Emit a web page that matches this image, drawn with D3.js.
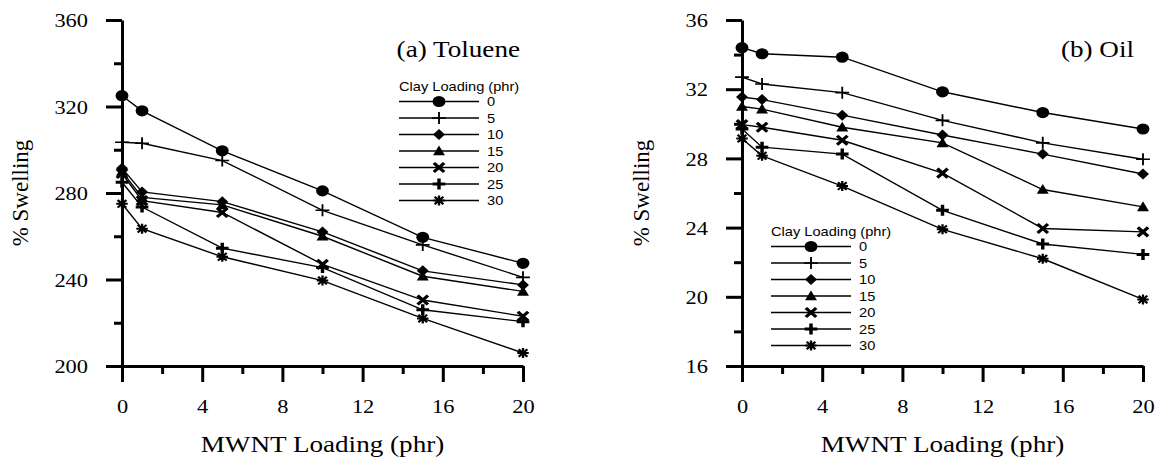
<!DOCTYPE html>
<html>
<head>
<meta charset="utf-8">
<script src="https://cdn.jsdelivr.net/npm/d3@7"></script>
<style>
  html, body { margin: 0; padding: 0; background: #fff; }
  svg { display: block; }
  .serif { font-family: "Liberation Serif", "Times New Roman", serif; fill: #000; }
  .sans { font-family: "Liberation Sans", Arial, sans-serif; fill: #000; }
</style>
</head>
<body>
<svg id="chart" width="1157" height="458"></svg>
<script>
// MWNT loading (phr) on the x axis
const mwntLoading = [0, 1, 5, 10, 15, 20];
// Clay loading (phr) for each series
const clayLoading = [0, 5, 10, 15, 20, 25, 30];

// % swelling in toluene, one row per clay loading
const tolueneSwelling = [
  [325, 318, 299.5, 281, 259.5, 247.5],
  [303.5, 303, 295, 272, 256, 241],
  [291.5, 280.5, 276, 262, 244, 237.5],
  [290, 278, 274.5, 260, 241.5, 234.5],
  [289, 276.5, 271, 247, 230.5, 223],
  [285, 273.5, 254.5, 245.5, 226, 220.5],
  [275, 263.5, 250.5, 239.5, 222, 206]
];

// % swelling in oil, one row per clay loading
const oilSwelling = [
  [34.4, 34.05, 33.85, 31.85, 30.65, 29.7],
  [32.7, 32.3, 31.8, 30.2, 28.9, 27.95],
  [31.55, 31.4, 30.5, 29.35, 28.25, 27.1],
  [31.0, 30.85, 29.8, 28.9, 26.2, 25.2],
  [29.95, 29.8, 29.05, 27.15, 23.95, 23.75],
  [29.7, 28.65, 28.25, 25.0, 23.05, 22.45],
  [29.15, 28.15, 26.4, 23.9, 22.2, 19.85]
];

// Tick labels
const xTicks = [0, 4, 8, 12, 16, 20];
const xMinorTicks = [2, 6, 10, 14, 18];
const tolueneTicks = [200, 240, 280, 320, 360];
const tolueneMinorTicks = [220, 260, 300, 340];
const oilTicks = [16, 20, 24, 28, 32, 36];
const oilMinorTicks = [18, 22, 26, 30, 34];

const panelTitles = ["(a) Toluene", "(b) Oil"];
const xTitle = "MWNT Loading (phr)";
const yTitle = "% Swelling";
const legendTitle = "Clay Loading (phr)";

// ---- drawing ----
const SX = 1.15;                 // horizontal glyph stretch
const markerKinds = ["circle", "plus", "diamond", "triangle", "cross", "boldplus", "asterisk"];

const svg = d3.select("#chart");

function drawMarker(parent, kind, cx, cy) {
  const g = parent.append("g").attr("transform", `translate(${cx},${cy}) scale(${SX},1)`);
  switch (kind) {
    case "circle":
      g.append("circle").attr("r", 5.6).attr("fill", "#000");
      break;
    case "plus":
      g.append("path").attr("d", "M-6,0H6M0,-6V6").attr("stroke", "#000").attr("stroke-width", 1.6).attr("fill", "none");
      break;
    case "diamond":
      g.append("path").attr("d", "M0,-5.5L5.2,0L0,5.5L-5.2,0Z").attr("fill", "#000");
      break;
    case "triangle":
      g.append("path").attr("d", "M0,-5.5L5.2,4.3L-5.2,4.3Z").attr("fill", "#000");
      break;
    case "cross":
      g.append("path").attr("d", "M-4.5,-4.5L4.5,4.5M-4.5,4.5L4.5,-4.5").attr("stroke", "#000").attr("stroke-width", 3).attr("fill", "none");
      break;
    case "boldplus":
      g.append("path").attr("d", "M-5.5,0H5.5M0,-5.5V5.5").attr("stroke", "#000").attr("stroke-width", 3).attr("fill", "none");
      break;
    case "asterisk":
      g.append("path").attr("d", "M-5,0H5M0,-5V5M-3.8,-3.8L3.8,3.8M-3.8,3.8L3.8,-3.8").attr("stroke", "#000").attr("stroke-width", 2).attr("fill", "none");
      break;
  }
}

const panels = [
  { values: tolueneSwelling, domain: [200, 360], ticks: tolueneTicks, minor: tolueneMinorTicks,
    left: 122, right: 523, title: panelTitles[0], titleRight: 520,
    legendX: 399, legendY: 91, yTitleX: 28 },
  { values: oilSwelling, domain: [16, 36], ticks: oilTicks, minor: oilMinorTicks,
    left: 742, right: 1143, title: panelTitles[1], titleRight: 1134,
    legendX: 771, legendY: 236, yTitleX: 649 }
];

const plotTop = 20, plotBottom = 366;

panels.forEach(p => {
  const x = d3.scaleLinear().domain([0, 20]).range([p.left, p.right]);
  const y = d3.scaleLinear().domain(p.domain).range([plotBottom, plotTop]);

  // minor ticks
  svg.append("g").attr("transform", `translate(${p.left},0)`)
    .call(d3.axisLeft(y).tickValues(p.minor).tickSize(8).tickSizeOuter(0).tickFormat(""))
    .call(g => g.select(".domain").remove())
    .call(g => g.selectAll("line").attr("stroke", "#000").attr("stroke-width", 3));
  svg.append("g").attr("transform", `translate(0,${plotBottom})`)
    .call(d3.axisBottom(x).tickValues(xMinorTicks).tickSize(8).tickSizeOuter(0).tickFormat(""))
    .call(g => g.select(".domain").remove())
    .call(g => g.selectAll("line").attr("stroke", "#000").attr("stroke-width", 3));

  // major y axis
  svg.append("g").attr("transform", `translate(${p.left},0)`)
    .call(d3.axisLeft(y).tickValues(p.ticks).tickSize(16).tickSizeOuter(0))
    .call(g => g.select(".domain").attr("stroke", "#000").attr("stroke-width", 3))
    .call(g => g.selectAll("line").attr("stroke", "#000").attr("stroke-width", 3))
    .call(g => g.selectAll("text")
      .attr("class", "serif")
      .attr("font-size", 19.5)
      .attr("x", 0)
      .attr("dy", "0.34em")
      .attr("transform", `translate(-34,0) scale(${SX},1)`));

  // major x axis
  svg.append("g").attr("transform", `translate(0,${plotBottom})`)
    .call(d3.axisBottom(x).tickValues(xTicks).tickSize(16).tickSizeOuter(0))
    .call(g => g.select(".domain").attr("stroke", "#000").attr("stroke-width", 3))
    .call(g => g.selectAll("line").attr("stroke", "#000").attr("stroke-width", 3))
    .call(g => g.selectAll("text")
      .attr("class", "serif")
      .attr("font-size", 19.5)
      .attr("y", 0).attr("dy", 0)
      .attr("transform", `translate(0,47) scale(${SX},1)`));

  // series
  const line = d3.line().x((d, i) => x(mwntLoading[i])).y(d => y(d));
  p.values.forEach(row => {
    svg.append("path").datum(row)
      .attr("d", line)
      .attr("fill", "none")
      .attr("stroke", "#000")
      .attr("stroke-width", 1.4);
  });
  p.values.forEach((row, si) => {
    row.forEach((v, i) => drawMarker(svg, markerKinds[si], x(mwntLoading[i]), y(v)));
  });

  // panel title
  svg.append("text").attr("class", "serif")
    .attr("font-size", 23)
    .attr("text-anchor", "end")
    .attr("transform", `translate(${p.titleRight},57) scale(1.18,1)`)
    .text(p.title);

  // axis titles
  svg.append("text").attr("class", "serif")
    .attr("font-size", 23)
    .attr("text-anchor", "middle")
    .attr("transform", `translate(${(p.left + p.right) / 2},452) scale(1.18,1)`)
    .text(xTitle);
  svg.append("text").attr("class", "serif")
    .attr("font-size", 23)
    .attr("text-anchor", "middle")
    .attr("transform", `translate(${p.yTitleX},${(plotTop + plotBottom) / 2}) rotate(-90)`)
    .text(yTitle);

  // legend
  const lg = svg.append("g");
  lg.append("text").attr("class", "sans")
    .attr("font-size", 12.5)
    .attr("transform", `translate(${p.legendX},${p.legendY}) scale(1.17,1)`)
    .text(legendTitle);
  clayLoading.forEach((c, i) => {
    const ry = p.legendY + 10.5 + i * 16.5;
    lg.append("line")
      .attr("x1", p.legendX).attr("x2", p.legendX + 80)
      .attr("y1", ry).attr("y2", ry)
      .attr("stroke", "#000").attr("stroke-width", 1.4);
    drawMarker(lg, markerKinds[i], p.legendX + 40, ry);
    lg.append("text").attr("class", "sans")
      .attr("font-size", 12.5)
      .attr("transform", `translate(${p.legendX + 88},${ry + 4.5}) scale(1.17,1)`)
      .text(c);
  });
});
</script>
</body>
</html>
